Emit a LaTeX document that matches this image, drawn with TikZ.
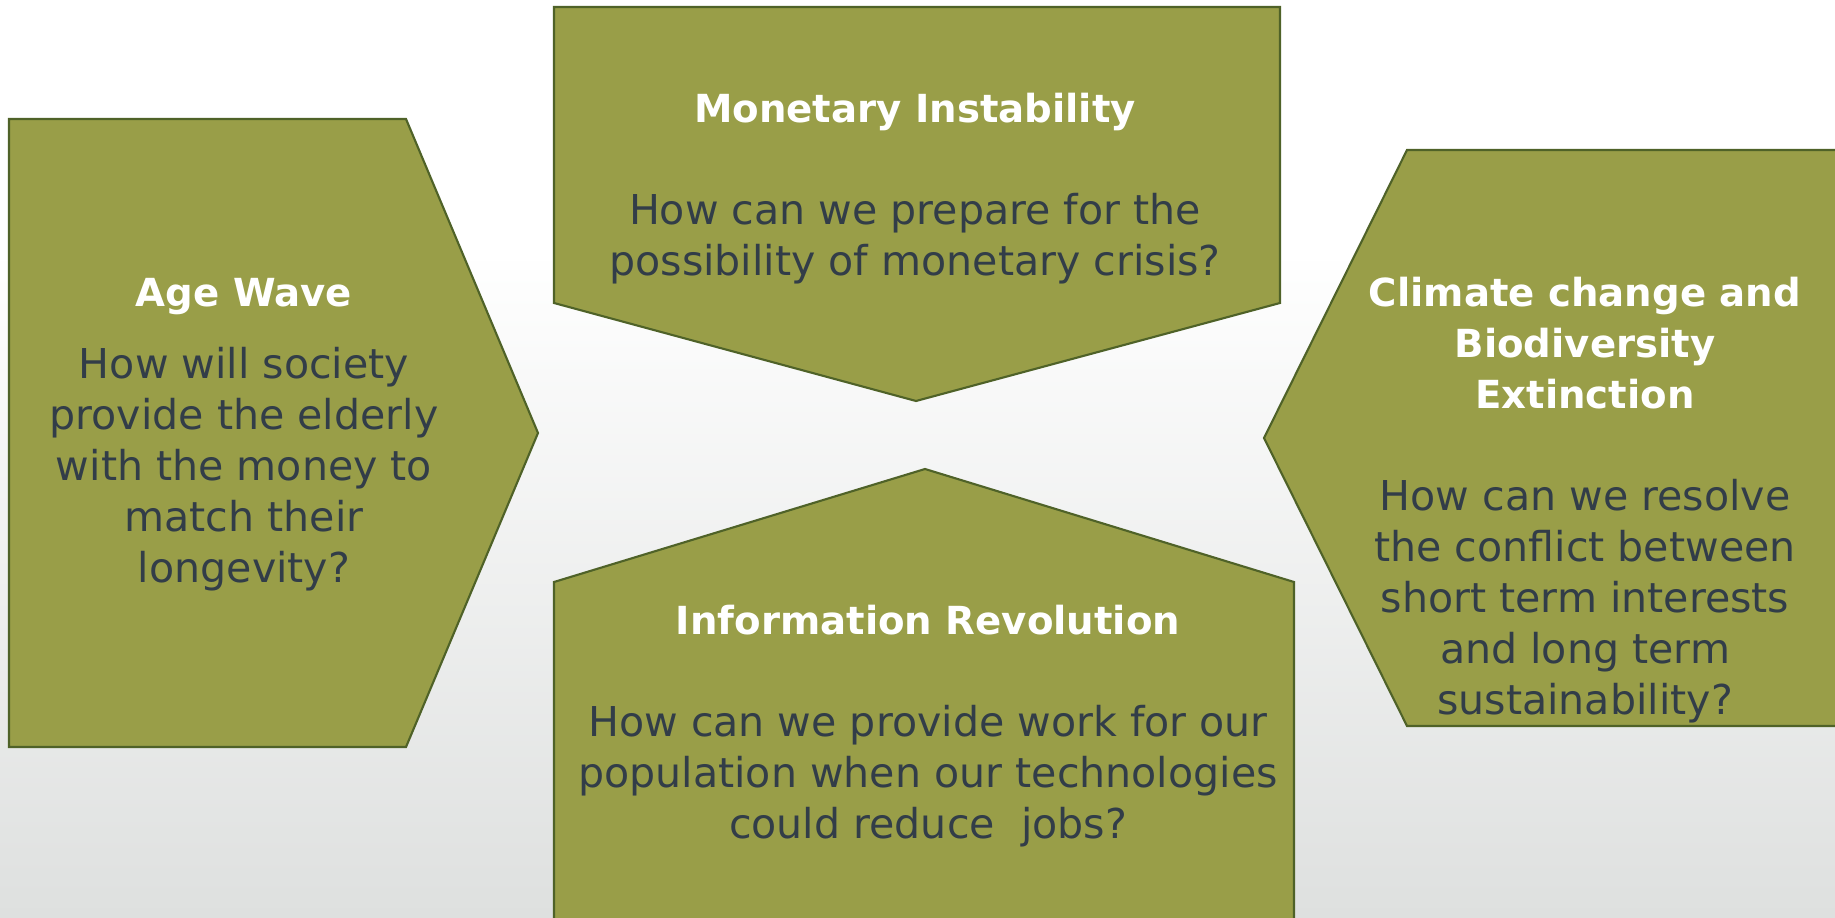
\documentclass[tikz,border=0pt]{standalone}
\usepackage{fontspec}
\setmainfont{DejaVu Sans}
\usepackage{tikz}

\definecolor{boxfill}{RGB}{153,158,72}
\definecolor{boxline}{RGB}{79,98,40}
\definecolor{bodytext}{RGB}{50,61,72}
\definecolor{bggray}{RGB}{222,224,223}
\newcommand\ttl[1]{{\fontsize{11}{14.5}\selectfont\bfseries\color{white}#1}}

\begin{document}
\begin{tikzpicture}[x=0.1mm,y=-0.1mm,
  box/.style={fill=boxfill,draw=boxline,line width=0.6pt},
  txt/.style={align=center,text=bodytext,inner sep=0pt,
    font=\fontsize{11.7}{14.5}\selectfont}]
\clip (0,0) rectangle (1835,918);
\fill[white] (0,0) rectangle (1835,250);
\shade[top color=white,bottom color=bggray] (0,250) rectangle (1835,918);

% the four boxes
\draw[box] (9,119) -- (406,119) -- (538,433) -- (406,747) -- (9,747) -- cycle;
\draw[box] (554,7) -- (1280,7) -- (1280,303) -- (916,401) -- (554,303) -- cycle;
\draw[box] (554,582) -- (925,469) -- (1294,582) -- (1294,940) -- (554,940) -- cycle;
\draw[box] (1264,438) -- (1407,150) -- (1850,150) -- (1850,726) -- (1407,726) -- cycle;

\node[txt] (age) at (244,435) {\ttl{Age Wave}\\[6pt]
  How will society\\ provide the elderly\\ with the money to\\ match their\\ longevity?};
\node[txt] (money) at (915,189) {\ttl{Monetary Instability}\\[14.5pt]
  How can we prepare for the\\ possibility of monetary crisis?};
\node[txt] (info) at (928,726) {\ttl{Information Revolution}\\[14.5pt]
  How can we provide work for our\\ population when our technologies\\ could reduce\ \ jobs?};
\node[txt] (climate) at (1585,500) {\ttl{Climate change and}\\ \ttl{Biodiversity}\\ \ttl{Extinction}\\[14.5pt]
  How can we resolve\\ the conflict between\\ short term interests\\ and long term\\ sustainability?};
\end{tikzpicture}
\end{document}
